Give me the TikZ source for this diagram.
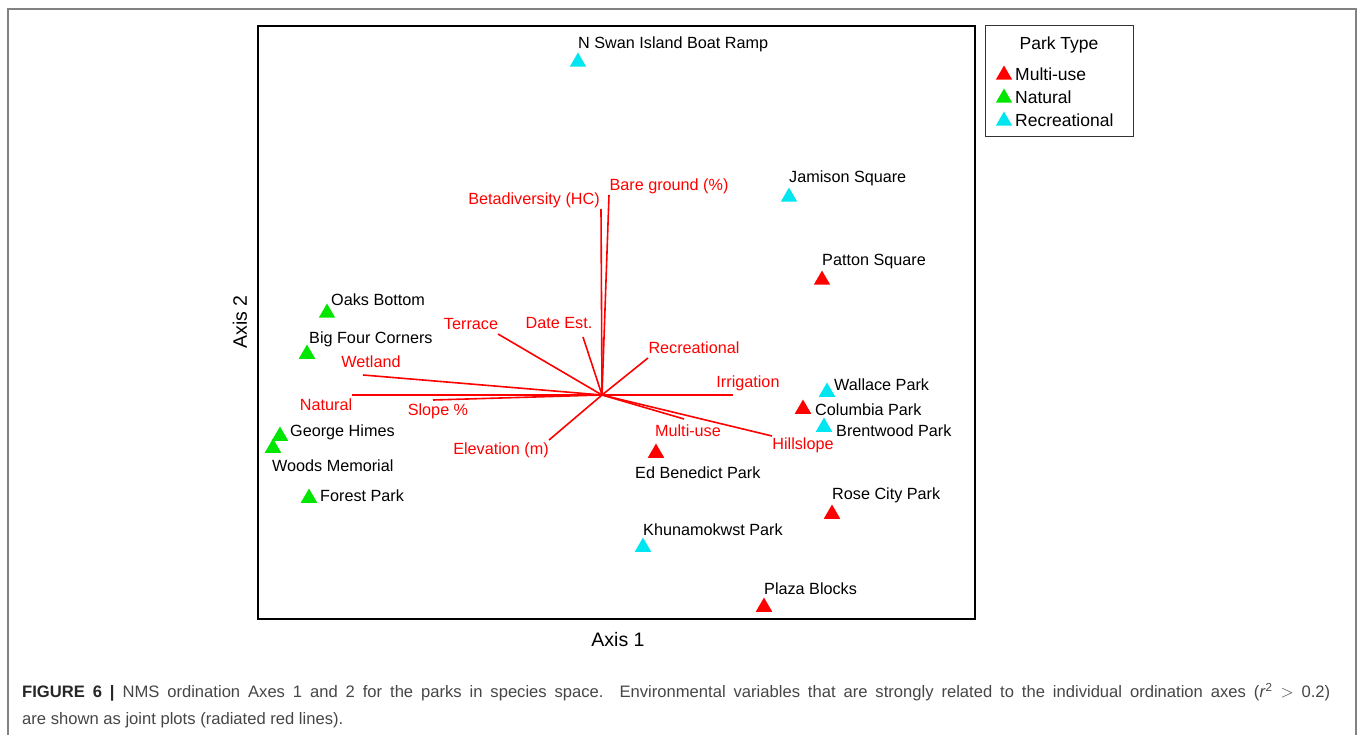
\documentclass[tikz,border=0pt]{standalone}
\usepackage{fontspec}
\setmainfont{Liberation Sans}
\usetikzlibrary{shapes.geometric}
\definecolor{multiuse}{RGB}{255,0,0}
\definecolor{natural}{RGB}{0,230,0}
\definecolor{recreational}{RGB}{0,230,240}
\definecolor{framegray}{RGB}{130,130,130}
\definecolor{captiongray}{RGB}{70,70,70}
\begin{document}
\begin{tikzpicture}[
  x=1pt, y=-1pt,
  park/.style={regular polygon, regular polygon sides=3, minimum size=19pt, inner sep=0pt, draw=none},
  multi/.style={park, fill=multiuse},
  nat/.style={park, fill=natural},
  rec/.style={park, fill=recreational},
  parklabel/.style={anchor=west, inner sep=0pt, font=\fontsize{16.2}{19}\selectfont},
  vec/.style={draw=red, line width=1.6pt},
  veclabel/.style={inner sep=0pt, text=red, font=\fontsize{16.2}{19}\selectfont},
  axislabel/.style={inner sep=0pt, font=\fontsize{19.5}{22}\selectfont}
]
\useasboundingbox (0,0) rectangle (1360,735);
% outer frame and plot area
\draw[framegray, line width=1.5pt] (8,735) -- (8,9) -- (1356,9) -- (1356,735);
\draw[line width=2pt] (258,26) rectangle (975,619);
\node[axislabel] (axis1) at (618,640) {Axis 1};
\node[axislabel, rotate=90] (axis2) at (240,322) {Axis 2};

% joint plot vectors
\coordinate (c) at (602,395);
\coordinate (betaEnd) at (601,209);
\coordinate (bareEnd) at (609,195);
\coordinate (terraceEnd) at (498,334);
\coordinate (dateEnd) at (583,337);
\coordinate (wetlandEnd) at (363,375);
\coordinate (naturalEnd) at (352,395);
\coordinate (slopeEnd) at (433,400);
\coordinate (elevEnd) at (549,440);
\coordinate (recEnd) at (648,358);
\coordinate (irrigEnd) at (733,395);
\coordinate (multiEnd) at (684,419);
\coordinate (hillEnd) at (772,436);
\foreach \e in {betaEnd,bareEnd,terraceEnd,dateEnd,wetlandEnd,naturalEnd,slopeEnd,elevEnd,recEnd,irrigEnd,multiEnd,hillEnd}
  \draw[vec] (c) -- (\e);

\node[veclabel] (beta) at (534,200) {Betadiversity (HC)};
\node[veclabel] (bare) at (669,186) {Bare ground (\%)};
\node[veclabel] (terrace) at (471,324) {Terrace};
\node[veclabel] (date) at (559,323) {Date Est.};
\node[veclabel] (wetland) at (371,362) {Wetland};
\node[veclabel] (naturalV) at (326,405) {Natural};
\node[veclabel] (slope) at (438,411) {Slope \%};
\node[veclabel] (elev) at (501,450) {Elevation (m)};
\node[veclabel] (recV) at (694,348) {Recreational};
\node[veclabel] (irrig) at (748,383) {Irrigation};
\node[veclabel] (multiV) at (688,431) {Multi-use};
\node[veclabel] (hill) at (803,445) {Hillslope};

% parks
\node[rec] (swan) at (578,62) {};
\node[parklabel] (swanL) at (578,44) {N Swan Island Boat Ramp};
\node[rec] (jamison) at (789,197) {};
\node[parklabel] (jamisonL) at (789,178) {Jamison Square};
\node[multi] (patton) at (822,280) {};
\node[parklabel] (pattonL) at (822,262) {Patton Square};
\node[nat] (oaks) at (327,313) {};
\node[parklabel] (oaksL) at (331,300) {Oaks Bottom};
\node[nat] (bigfour) at (307,354) {};
\node[parklabel] (bigfourL) at (309,339) {Big Four Corners};
\node[nat] (himes) at (280,436) {};
\node[parklabel] (himesL) at (290,432) {George Himes};
\node[nat] (woods) at (273,448) {};
\node[parklabel] (woodsL) at (272,466) {Woods Memorial};
\node[nat] (forest) at (309,498) {};
\node[parklabel] (forestL) at (320,496) {Forest Park};
\node[rec] (wallace) at (827,392) {};
\node[parklabel] (wallaceL) at (834,385) {Wallace Park};
\node[multi] (columbia) at (803,409) {};
\node[parklabel] (columbiaL) at (815,410) {Columbia Park};
\node[rec] (brentwood) at (824,427) {};
\node[parklabel] (brentwoodL) at (836,431) {Brentwood Park};
\node[multi] (benedict) at (656,453) {};
\node[parklabel] (benedictL) at (635,473) {Ed Benedict Park};
\node[multi] (rose) at (832,514) {};
\node[parklabel] (roseL) at (832,495) {Rose City Park};
\node[rec] (khuna) at (643,547) {};
\node[parklabel] (khunaL) at (643,530) {Khunamokwst Park};
\node[multi] (plaza) at (764,607) {};
\node[parklabel] (plazaL) at (764,589) {Plaza Blocks};

% legend
\draw[line width=1pt, black!80] (985,26) rectangle (1133,137);
\node[axislabel, font=\fontsize{17.5}{20}\selectfont] (legendT) at (1059,45) {Park Type};
\node[multi] (legM) at (1004,75) {};
\node[parklabel, font=\fontsize{17.5}{20}\selectfont] (legML) at (1015,74) {Multi-use};
\node[nat] (legN) at (1004,98) {};
\node[parklabel, font=\fontsize{17.5}{20}\selectfont] (legNL) at (1015,97) {Natural};
\node[rec] (legR) at (1004,121) {};
\node[parklabel, font=\fontsize{17.5}{20}\selectfont] (legRL) at (1015,120) {Recreational};

% caption
\node[parklabel, text=captiongray, font=\fontsize{16.6}{19}\selectfont] (cap1) at (22,692)
  {\makebox[1308pt][s]{\textbf{\color{black!85}FIGURE 6 |} NMS ordination Axes 1 and 2 for the parks in species space. Environmental variables that are strongly related to the individual ordination axes (\textit{r}\textsuperscript{2} $>$ 0.2)}};
\node[parklabel, text=captiongray, font=\fontsize{16.6}{19}\selectfont] (cap2) at (22,720)
  {are shown as joint plots (radiated red lines).};
\end{tikzpicture}
\end{document}
